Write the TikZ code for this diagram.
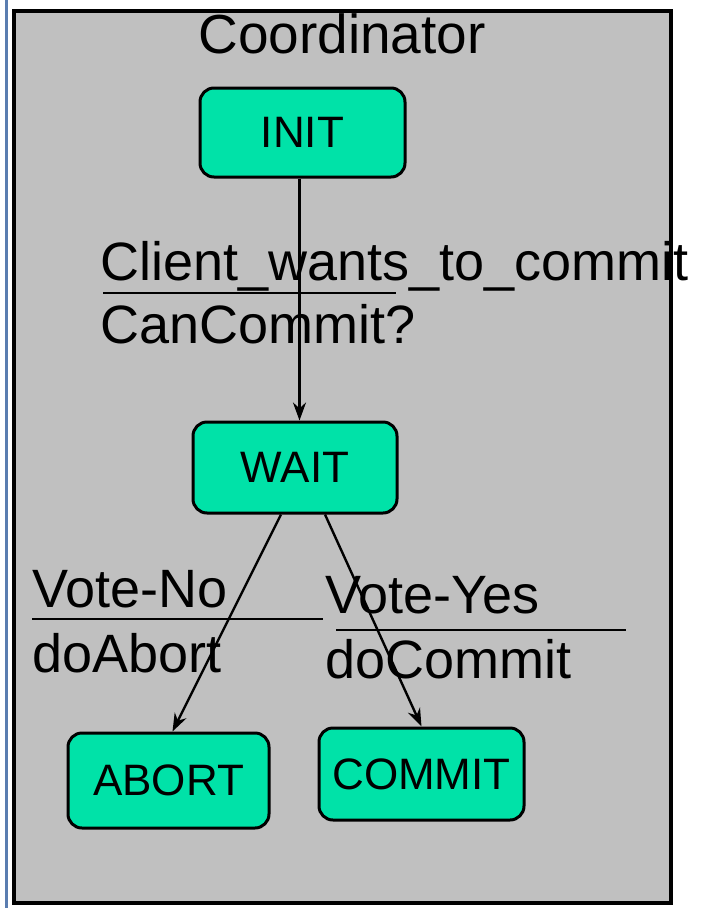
\documentclass[tikz,border=0pt]{standalone}
\usepackage{fontspec}
\setmainfont{Liberation Sans}
\usetikzlibrary{arrows.meta}
\definecolor{boxgray}{RGB}{192,192,192}
\definecolor{stategreen}{RGB}{0,226,168}
\definecolor{edgeblue}{RGB}{90,125,176}
\tikzset{
  statebox/.style={draw=black,line width=3pt,fill=stategreen,rounded corners=14pt,
    minimum width=204pt,minimum height=91pt,inner sep=0pt,font=\fontsize{44}{44}\selectfont},
  lbl/.style={anchor=base west,inner sep=0pt,font=\fontsize{54}{54}\selectfont},
  trans/.style={-{Stealth[length=18pt,width=13pt]},line width=2.4pt}
}
\begin{document}
\begin{tikzpicture}[x=1pt,y=-1pt]
  \useasboundingbox (0,0) rectangle (705,908);
  \draw[edgeblue,line width=3pt] (6.5,0)--(6.5,908);
  \draw[fill=boxgray,line width=4pt] (14,11) rectangle (671,903);
  \node[anchor=base,inner sep=0pt,font=\fontsize{55}{55}\selectfont] (title) at (342,53) {Coordinator};
  % states
  \node[statebox,minimum width=205pt,minimum height=89pt] (init) at (302.5,132.5) {INIT};
  \node[statebox] (wait) at (295,467.5) {WAIT};
  \node[statebox,minimum width=201pt,minimum height=95pt] (abort) at (168.5,780.5) {ABORT};
  \node[statebox,minimum width=205pt,minimum height=92pt] (commit) at (421.5,774) {COMMIT};
  % transitions
  \draw[trans] ([xshift=-3pt]init.south) -- ([xshift=-3pt]init.south |- wait.north);
  \draw[trans] ([xshift=-14pt]wait.south) -- ([xshift=4pt]abort.north);
  \draw[trans] ([xshift=30pt]wait.south) -- (commit.north);
  % labels
  \node[lbl] (client) at (100,280) {Client\_wants\_to\_commit};
  \node[lbl] (cancommit) at (100,343) {CanCommit?};
  \coordinate (c1) at (103,293);
  \coordinate (c2) at (396,293);
  \draw[line width=2.4pt] (c1) -- (c2);
  \node[lbl] (voteno) at (32,607) {Vote-No};
  \node[lbl] (doabort) at (32,672) {doAbort};
  \coordinate (n1) at (32,619);
  \coordinate (n2) at (323,619);
  \draw[line width=2.4pt] (n1) -- (n2);
  \node[lbl] (voteyes) at (325,613) {Vote-Yes};
  \node[lbl] (docommit) at (325,678) {doCommit};
  \coordinate (y1) at (336,630);
  \coordinate (y2) at (626,630);
  \draw[line width=2.4pt] (y1) -- (y2);
\end{tikzpicture}
\end{document}
